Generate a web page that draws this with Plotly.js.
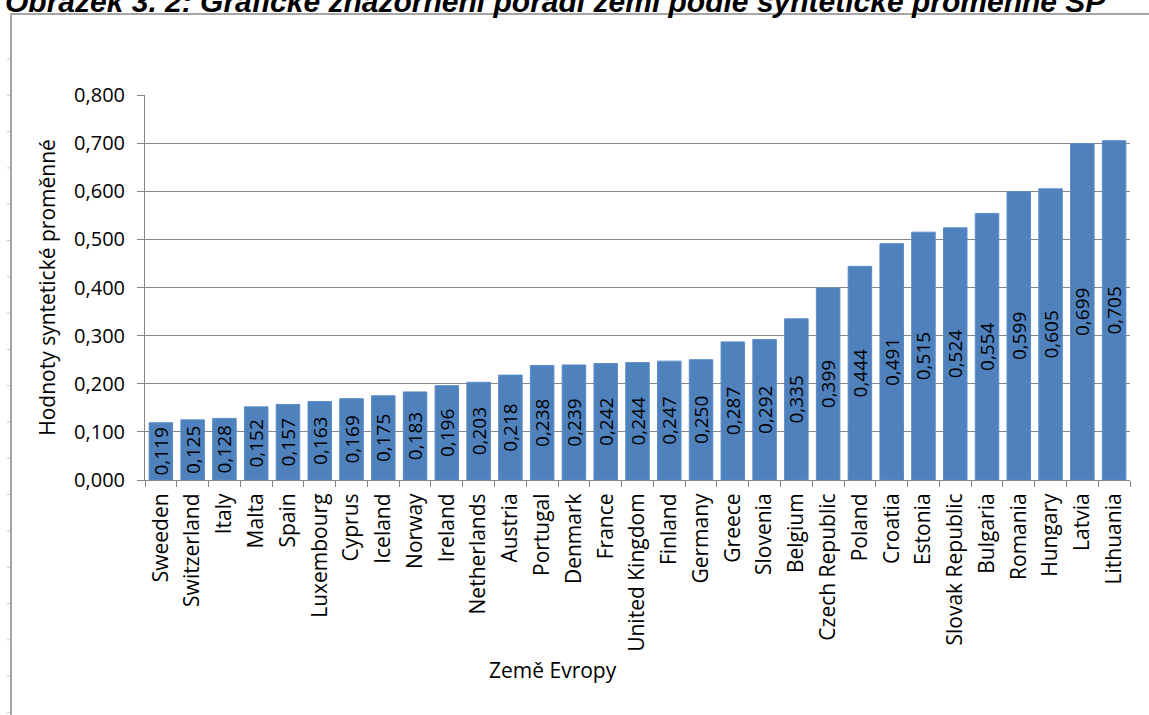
<!DOCTYPE html>
<html>
<head>
<meta charset="utf-8">
<script src="https://cdn.plot.ly/plotly-3.0.1.min.js"></script>
<style>
  html, body { margin: 0; padding: 0; background: #fff; overflow: hidden; }
  #chart { width: 1149px; height: 715px; }
</style>
</head>
<body>
<div id="chart"></div>
<script>
const countries = ["Sweeden", "Switzerland", "Italy", "Malta", "Spain", "Luxembourg", "Cyprus", "Iceland", "Norway", "Ireland", "Netherlands", "Austria", "Portugal", "Denmark", "France", "United Kingdom", "Finland", "Germany", "Greece", "Slovenia", "Belgium", "Czech Republic", "Poland", "Croatia", "Estonia", "Slovak Republic", "Bulgaria", "Romania", "Hungary", "Latvia", "Lithuania"];
const values = [0.119, 0.125, 0.128, 0.152, 0.157, 0.163, 0.169, 0.175, 0.183, 0.196, 0.203, 0.218, 0.238, 0.239, 0.242, 0.244, 0.247, 0.250, 0.287, 0.292, 0.335, 0.399, 0.444, 0.491, 0.515, 0.524, 0.554, 0.599, 0.605, 0.699, 0.705];
const yTicks = [0, 0.1, 0.2, 0.3, 0.4, 0.5, 0.6, 0.7, 0.8];
const titleText = "Obrázek 3. 2: Grafické znázornění pořadí zemí podle syntetické proměnné SP";
const yTitle = "Hodnoty syntetické proměnné";
const xTitle = "Země Evropy";

const W = 1149, H = 715;
const M = {l: 145, r: 19, t: 95, b: 235};
const pw = W - M.l - M.r, ph = H - M.t - M.b;
const px = v => (v - M.l) / pw;           // pixel x -> paper
const py = v => (H - M.b - v) / ph;       // pixel y -> paper

const font = "Open Sans, Noto Sans, sans-serif";

const trace = {
  type: "bar",
  x: countries,
  y: values,
  marker: {color: "#4F81BD", line: {color: "#5B8CC8", width: 1}},
  width: 0.74,
  text: values.map(v => v.toFixed(3).replace(".", ",")),
  textposition: "inside",
  insidetextanchor: "middle",
  textangle: -90,
  constraintext: "none",
  textfont: {family: font, size: 19, color: "#000"},
  cliponaxis: false,
  hoverinfo: "x+y"
};

// frame around the figure (as in the source document)
const shapes = [
  {type: "line", xref: "paper", yref: "paper", x0: px(11), x1: px(11), y0: py(14), y1: py(720), line: {color: "#A6A6A6", width: 2}},
  {type: "line", xref: "paper", yref: "paper", x0: px(10), x1: px(1152), y0: py(14), y1: py(14), line: {color: "#A6A6A6", width: 2}}
];
for (let yy = 59; yy < 715; yy += 36.3) {
  shapes.push({type: "line", xref: "paper", yref: "paper", x0: px(7), x1: px(10), y0: py(yy), y1: py(yy), line: {color: "#C8C8C8", width: 1}});
}

const layout = {
  width: W, height: H,
  margin: M,
  paper_bgcolor: "#fff",
  plot_bgcolor: "#fff",
  showlegend: false,
  separators: ",.",
  bargap: 0.26,
  title: {
    text: "<b><i>" + titleText + "</i></b>",
    font: {family: "Liberation Sans, Arial, sans-serif", size: 30, color: "#000"},
    xref: "container", x: 5 / W, xanchor: "left",
    yref: "container", y: 1 - 1 / H, yanchor: "middle"
  },
  xaxis: {
    type: "category",
    tickangle: -90,
    tickson: "boundaries",
    ticks: "outside",
    ticklen: 6,
    tickcolor: "#868686",
    showline: true,
    linecolor: "#868686",
    linewidth: 1,
    showgrid: false,
    ticklabelstandoff: 4,
    tickfont: {family: font, size: 21, color: "#000"},
    automargin: false
  },
  yaxis: {
    range: [0, 0.8],
    tickvals: yTicks,
    tickformat: ".3f",
    ticks: "outside",
    ticklen: 7,
    tickcolor: "#868686",
    showline: true,
    linecolor: "#868686",
    linewidth: 1,
    showgrid: true,
    gridcolor: "#868686",
    gridwidth: 1,
    zeroline: false,
    ticklabelstandoff: 8,
    tickfont: {family: font, size: 20, color: "#000"},
    title: {text: yTitle, font: {family: font, size: 21, color: "#000"}, standoff: 12},
    automargin: false
  },
  annotations: [
    {text: xTitle, xref: "paper", yref: "paper", x: px(553), y: py(670), xanchor: "center", yanchor: "middle", showarrow: false, font: {family: font, size: 21, color: "#000"}}
  ],
  shapes: shapes
};

Plotly.newPlot("chart", [trace], layout, {displayModeBar: false, staticPlot: true});
</script>
</body>
</html>
